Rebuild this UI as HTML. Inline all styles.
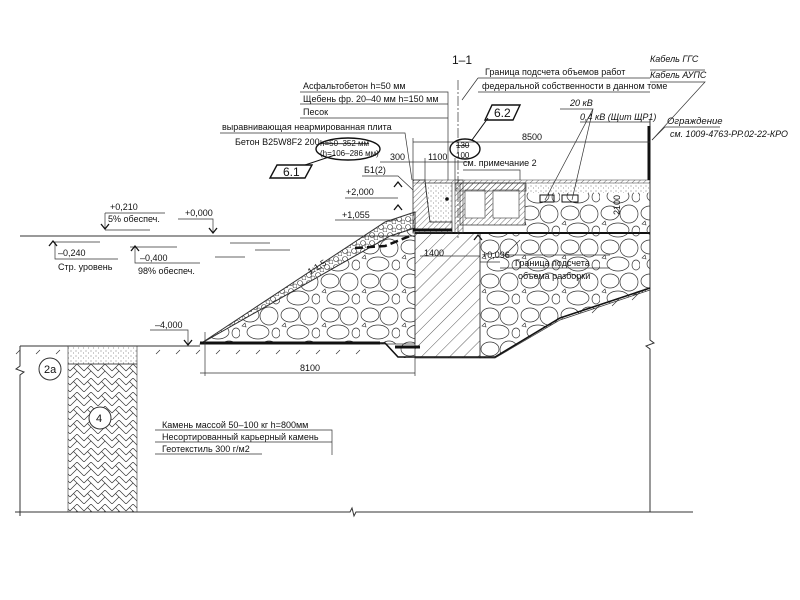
<!DOCTYPE html>
<html><head><meta charset="utf-8"><style>
html,body{margin:0;padding:0;background:#fff;}
svg{display:block;}
text{font-family:"Liberation Sans","DejaVu Sans",sans-serif;font-size:9px;fill:#111;}
.it{font-style:italic;}
</style></head><body>
<svg width="800" height="600" viewBox="0 0 800 600" xmlns="http://www.w3.org/2000/svg">
<defs>
<pattern id="hat" width="10" height="10" patternUnits="userSpaceOnUse" patternTransform="rotate(45)">
<line x1="0" y1="0" x2="0" y2="10" stroke="#333" stroke-width="0.8"/></pattern>
<pattern id="hatf" width="4" height="4" patternUnits="userSpaceOnUse" patternTransform="rotate(45)">
<line x1="0" y1="0" x2="0" y2="4" stroke="#333" stroke-width="0.7"/></pattern>
<pattern id="stone" width="40" height="34" patternUnits="userSpaceOnUse">
<ellipse cx="10" cy="9" rx="9" ry="7" fill="none" stroke="#333" stroke-width="0.7"/>
<ellipse cx="29" cy="10" rx="9" ry="9" fill="none" stroke="#333" stroke-width="0.7"/>
<ellipse cx="18" cy="26" rx="11" ry="7" fill="none" stroke="#333" stroke-width="0.7"/>
<ellipse cx="36" cy="27" rx="4" ry="5" fill="none" stroke="#333" stroke-width="0.7"/>
<path d="M2 20 l3 -3 l1 4z" fill="none" stroke="#333" stroke-width="0.6"/></pattern>
<pattern id="stoneS" width="9" height="8" patternUnits="userSpaceOnUse">
<circle cx="3" cy="3" r="2.5" fill="none" stroke="#333" stroke-width="0.6"/>
<circle cx="7" cy="6" r="2" fill="none" stroke="#333" stroke-width="0.6"/></pattern>
<pattern id="dots" width="5" height="5" patternUnits="userSpaceOnUse">
<circle cx="1" cy="1" r="0.5" fill="#555"/><circle cx="3.5" cy="3" r="0.5" fill="#777"/></pattern>
<pattern id="herr" width="14" height="14" patternUnits="userSpaceOnUse">
<path d="M0 7 L7 0 L14 7 M0 14 L7 7 L14 14 M3.5 3.5 L10.5 10.5 M10.5 3.5 L14 7" fill="none" stroke="#333" stroke-width="0.7"/></pattern>
</defs>

<line x1="20" y1="236" x2="415" y2="236" stroke="#333"/>
<line x1="20" y1="346" x2="200" y2="346" stroke="#333"/>
<path d="M20 346 V366 l-4 3 l8 3 l-4 3 V516" fill="none" stroke="#333"/>
<path d="M650 120 V340 l4 3 l-8 3 l4 3 V512" fill="none" stroke="#333"/>
<path d="M15 512 H350 l2 -4 l2 8 l2 -4 H693" fill="none" stroke="#333"/>

<path d="M200 344 L390 236 L415 228 L415 344 Z" fill="url(#stone)" stroke="#333" stroke-width="0.7"/>
<path d="M200 344 L390 236 L415 228 L415 212 L385 222 L200 344 Z" fill="url(#stoneS)" stroke="#333"/>
<rect x="415" y="233" width="65" height="125" fill="url(#hat)" stroke="#333" stroke-width="0.7"/>
<path d="M480 233 L650 233 L650 290 L560 320 L495 358 L480 358 Z" fill="url(#stone)" stroke="#333" stroke-width="0.7"/>
<path d="M400 343 L415 343 L415 358 L400 358 Z" fill="url(#stone)"/>
<path d="M200 343 H385 L398 357 H495 L560 318 L650 288" fill="none" stroke="#111" stroke-width="1.6"/>
<line x1="200" y1="343" x2="380" y2="343" stroke="#111" stroke-width="3"/>
<line x1="395" y1="347" x2="420" y2="347" stroke="#111" stroke-width="3"/>
<path d="M20 350 l-4 4 M40 350 l-4 4 M60 350 l-4 4 M160 350 l-4 4 M180 350 l-4 4 M200 350 l-4 4 M220 350 l-4 4 M240 350 l-4 4 M260 350 l-4 4 M280 350 l-4 4 M300 350 l-4 4 M320 350 l-4 4 M340 350 l-4 4 M360 350 l-4 4 M600 305 l-8 8 M620 298 l-8 8 M640 292 l-8 8" stroke="#333" stroke-width="0.7"/>
<path d="M355 248 L385 246 L410 236" fill="none" stroke="#111" stroke-width="2.5" stroke-dasharray="8,4"/>
<line x1="415" y1="233" x2="650" y2="233" stroke="#111" stroke-width="2"/>

<rect x="413" y="180" width="237" height="3" fill="url(#hatf)" stroke="#333" stroke-width="0.5"/>
<rect x="525" y="183" width="125" height="10" fill="url(#dots)"/>
<rect x="525" y="193" width="125" height="40" fill="url(#stone)"/>
<path d="M413 180 L425 180 L430 222 L452 222 L452 233 L413 233 Z" fill="url(#hatf)" stroke="#333" stroke-width="0.8"/>
<path d="M425 183 L452 183 L452 222 L430 222 Z" fill="url(#dots)" stroke="#333" stroke-width="0.6"/>
<circle cx="447" cy="199" r="1.8" fill="#111"/>
<rect x="455" y="180" width="8" height="53" fill="url(#hatf)" stroke="#333" stroke-width="0.6"/>
<path d="M460 183 H525 V225 H460 Z" fill="url(#hatf)" stroke="#333" stroke-width="0.7"/>
<rect x="465" y="190" width="20" height="28" fill="#fff" stroke="#333" stroke-width="0.6"/>
<rect x="493" y="190" width="26" height="28" fill="#fff" stroke="#333" stroke-width="0.6"/>
<rect x="486" y="190" width="6" height="28" fill="url(#hatf)"/>
<rect x="456" y="183" width="70" height="8" fill="url(#hatf)" stroke="#333" stroke-width="0.6"/>
<line x1="413" y1="230" x2="452" y2="230" stroke="#111" stroke-width="3"/>
<rect x="540" y="195" width="14" height="7" fill="none" stroke="#111"/>
<rect x="562" y="195" width="16" height="7" fill="none" stroke="#111"/>
<line x1="649" y1="126" x2="649" y2="180" stroke="#111" stroke-width="3"/>

<rect x="68" y="346" width="69" height="18" fill="url(#dots)" stroke="#333" stroke-width="0.6"/>
<rect x="68" y="364" width="69" height="148" fill="url(#herr)" stroke="#333" stroke-width="0.6"/>
<circle cx="50" cy="369" r="11" fill="#fff" stroke="#333"/><text x="44" y="373" style="font-size:11px">2a</text>
<circle cx="100" cy="418" r="11" fill="#fff" stroke="#333"/><text x="96" y="422" style="font-size:11px">4</text>

<line x1="458" y1="80" x2="458" y2="240" stroke="#333" stroke-width="0.7" stroke-dasharray="10,2,2,2"/>
<text x="452" y="64" style="font-size:12px">1–1</text>

<g stroke="#333" stroke-width="0.7" fill="none">
<path d="M300 92 H448 V180 M300 104 H448 M300 118 H448"/>
<path d="M220 133 H405 L412 180"/>
<path d="M478 78 H650 M478 92 H650 M478 78 L462 100"/>
<path d="M560 109 H593 L572 200 M593 109 L545 200"/>
<path d="M580 122 H650"/>
<path d="M650 70 H705 M650 82 H705 L652 140"/>
<path d="M665 127 H720 M665 127 L652 140"/>
<path d="M413 142 H650 M413 138 V180 M425 158 V180 M455 158 V180 M380 162 H470"/>
<path d="M463 170 H520 L520 180"/>
<path d="M362 176 H398 L413 190"/>
<path d="M345 198 H398 M335 220 H398"/>
<path d="M420 256 H480 M480 250 V262 H500 M505 255 H610 M500 268 H610 M505 255 L520 240"/>
<path d="M105 213 H165 M105 213 V228 M105 230 H150"/>
<path d="M178 219 H213 V232"/>
<path d="M53 242 H100 M55 242 V259 H118"/>
<path d="M130 247 H177 M135 247 V263 H200"/>
<path d="M150 330 H188 V344"/>
<path d="M205 332 V376 M415 358 V376 M200 373 H415"/>
<path d="M155 430 H332 V455 M155 442 H332 M155 454 H262"/>
<path d="M230 243 H270 M255 250 H290 M215 257 H245"/>
</g>
<g fill="none" stroke="#111" stroke-width="1.3">
<path d="M101 224 l4 5 l4 -5"/><path d="M209 228 l4 5 l4 -5"/><path d="M184 340 l4 5 l4 -5"/>
<path d="M49 246 l4 -5 l4 5"/><path d="M131 251 l4 -5 l4 5"/>
<path d="M394 187 l4 -5 l4 5"/><path d="M394 210 l4 -5 l4 5"/><path d="M474 240 l4 -5 l4 5"/>
</g>
<text x="303" y="89">Асфальтобетон h=50 мм</text>
<text x="303" y="102">Щебень фр. 20–40 мм h=150 мм</text>
<text x="303" y="115">Песок</text>
<text x="222" y="130">выравнивающая неармированная плита</text>
<text x="235" y="145">Бетон B25W8F2 200</text>
<text x="320" y="146" style="font-size:8px;text-decoration:line-through">h=50–352 мм</text>
<text x="320" y="156" style="font-size:8px">(h=106–286 мм)</text>
<ellipse cx="348" cy="149" rx="32" ry="11" fill="none" stroke="#111" stroke-width="1.4"/>
<path d="M277 165 H312 L305 178 H270 Z" fill="#fff" stroke="#111" stroke-width="1.4"/>
<text x="283" y="176" style="font-size:12px">6.1</text>
<path d="M305 165 L335 155" stroke="#111"/>
<path d="M492 105 H520 L513 120 H485 Z" fill="#fff" stroke="#111" stroke-width="1.4"/>
<text x="494" y="117" style="font-size:12px">6.2</text>
<path d="M488 118 L472 140" stroke="#111"/>
<ellipse cx="465" cy="149" rx="15" ry="10" fill="none" stroke="#111" stroke-width="1.4"/>
<text x="456" y="148" style="font-size:8px;text-decoration:line-through">130</text>
<text x="456" y="158" style="font-size:8px">100</text>
<text x="485" y="75">Граница подсчета объемов работ</text>
<text x="482" y="89">федеральной собственности в данном томе</text>
<text x="570" y="106" class="it">20 кВ</text>
<text x="580" y="120" class="it">0,4 кВ (Щит ЩР1)</text>
<text x="650" y="62" class="it">Кабель ГГС</text>
<text x="650" y="78" class="it">Кабель АУПС</text>
<text x="667" y="124" class="it" style="font-size:9.5px">Ограждение</text>
<text x="670" y="137" class="it" style="font-size:9.5px" textLength="118" lengthAdjust="spacingAndGlyphs">см. 1009-4763-РР.02-22-КРО</text>
<text x="522" y="140">8500</text>
<text x="390" y="160">300</text>
<text x="428" y="160">1100</text>
<text x="463" y="166">см. примечание 2</text>
<text x="364" y="173">Б1(2)</text>
<text x="346" y="195">+2,000</text>
<text x="342" y="218">+1,055</text>
<text x="424" y="256">1400</text>
<text x="482" y="258">+0,096</text>
<text x="515" y="266">Граница подсчета</text>
<text x="518" y="279">объема разборки</text>
<text x="620" y="215" transform="rotate(-90 620 215)">2100</text>
<text x="110" y="210">+0,210</text>
<text x="108" y="222">5% обеспеч.</text>
<text x="185" y="216">+0,000</text>
<text x="58" y="256">–0,240</text>
<text x="58" y="270">Стр. уровень</text>
<text x="140" y="261">–0,400</text>
<text x="138" y="274">98% обеспеч.</text>
<text x="155" y="328">–4,000</text>
<text x="300" y="371">8100</text>
<text x="310" y="275" transform="rotate(-32 310 275)">1:1,5</text>
<text x="162" y="428">Камень массой 50–100 кг h=800мм</text>
<text x="162" y="440">Несортированный карьерный камень</text>
<text x="162" y="452">Геотекстиль 300 г/м2</text>
</svg>
</body></html>
